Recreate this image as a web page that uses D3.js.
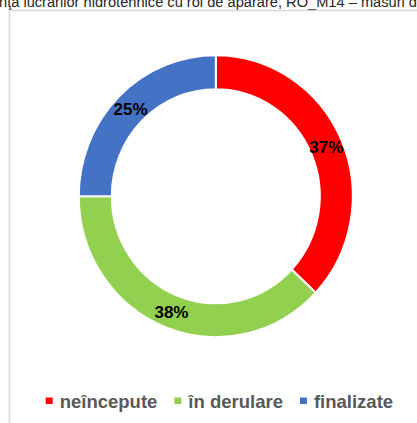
<!DOCTYPE html>
<html>
<head>
<meta charset="utf-8">
<script src="https://cdn.jsdelivr.net/npm/d3@7"></script>
<style>
html,body{margin:0;padding:0;background:#fff;overflow:hidden;}
svg{display:block;}
</style>
</head>
<body>
<svg id="chart" width="417" height="423"></svg>
<script>
const categories = ["neîncepute", "în derulare", "finalizate"];
const values = [37, 38, 25];
const colors = ["#ff0000", "#92d050", "#4472c4"];
const captionText = "nţa lucrărilor hidrotehnice cu rol de apărare, RO_M14 – măsuri d";

const svg = d3.select("#chart");

// caption (cut at the top, as in the screenshot)
svg.append("text")
  .attr("x", -1).attr("y", 7)
  .attr("textLength", 418).attr("lengthAdjust", "spacingAndGlyphs")
  .style("font-family", "'Liberation Sans', Arial, sans-serif")
  .style("font-size", "14px")
  .style("fill", "#262626")
  .text(captionText);

// chart frame
svg.append("rect")
  .attr("x", 9.5).attr("y", 10.5)
  .attr("width", 420).attr("height", 420)
  .attr("fill", "#fff")
  .attr("stroke", "#d9d9d9").attr("stroke-width", 1.6);

const cx = 215.8, cy = 196.2, rOuter = 137, rInner = 104, sy = 1.029;
const g = svg.append("g").attr("transform", `translate(${cx},${cy})`);
const ring = g.append("g").attr("transform", `scale(1,${sy})`);

const pie = d3.pie().sort(null).value(d => d.v);
const data = pie(categories.map((c, i) => ({c, v: values[i], col: colors[i]})));
const arc = d3.arc().innerRadius(rInner).outerRadius(rOuter);

ring.selectAll("path").data(data).join("path")
  .attr("d", arc)
  .attr("fill", d => d.data.col)
  .attr("stroke", "#fff").attr("stroke-width", 2);

const total = d3.sum(values);
g.selectAll("text.lbl").data(data).join("text")
  .attr("class", "lbl")
  .attr("x", d => arc.centroid(d)[0])
  .attr("y", d => arc.centroid(d)[1] * sy)
  .attr("dy", "0.36em")
  .attr("text-anchor", "middle")
  .style("font-family", "'Liberation Sans', Arial, sans-serif")
  .style("font-weight", "bold")
  .style("font-size", "17px")
  .style("fill", "#000")
  .text(d => Math.round(d.data.v / total * 100) + "%");

// legend
const legend = svg.append("g");
const legendFont = "'Liberation Sans', Arial, sans-serif";
let lx = 45.7;
const ly = 408;
categories.forEach((c, i) => {
  legend.append("rect")
    .attr("x", lx).attr("y", 397.5)
    .attr("width", 7).attr("height", 6.5)
    .attr("fill", colors[i]);
  const t = legend.append("text")
    .attr("x", lx + 14).attr("y", ly)
    .style("font-family", legendFont)
    .style("font-weight", "bold")
    .style("font-size", "18.5px")
    .style("fill", "#595959")
    .text(c);
  const w = t.node().getComputedTextLength();
  lx = lx + 14 + w + 17;
});
</script>
</body>
</html>
